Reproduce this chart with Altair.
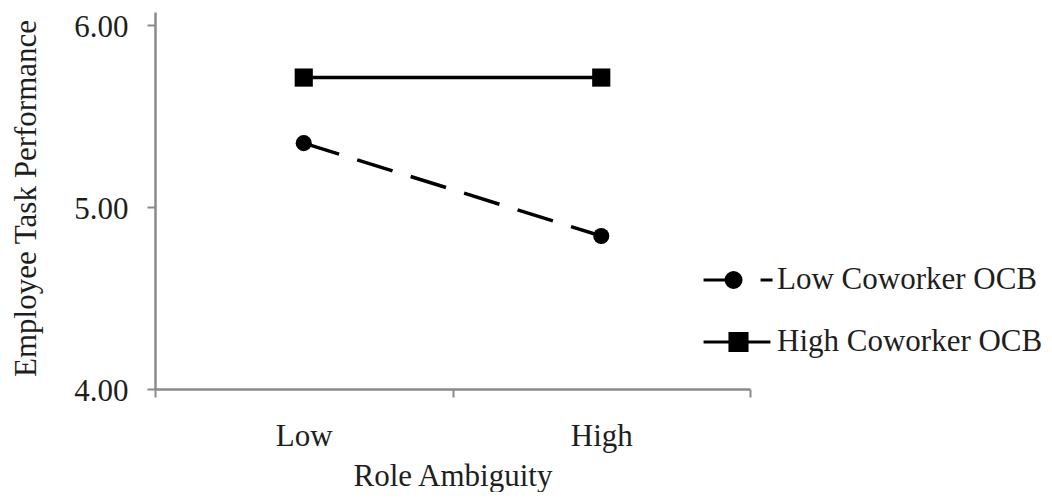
import altair as alt
import pandas as pd

ambiguity = ["Low", "High"]
series_names = ["Low Coworker OCB", "High Coworker OCB"]
low_ocb = [5.35, 4.84]
high_ocb = [5.71, 5.71]

rows = []
for a, v in zip(ambiguity, low_ocb):
    rows.append({"ambiguity": a, "series": series_names[0], "value": v})
for a, v in zip(ambiguity, high_ocb):
    rows.append({"ambiguity": a, "series": series_names[1], "value": v})
df = pd.DataFrame(rows)

FONT = "Liberation Serif"
TXT = "#1e1e1e"
AX = "#8a8a8a"

x_enc = alt.X(
    "ambiguity:N",
    sort=ambiguity,
    scale=alt.Scale(paddingInner=0, paddingOuter=0),
    axis=alt.Axis(
        title="Role Ambiguity",
        labelAngle=0,
        tickBand="extent",
        tickSize=8,
        labelPadding=24,
        titleX=297.5,
        titleY=96,
        titleBaseline="alphabetic",
        titleAlign="center",
    ),
)
y_enc = alt.Y(
    "value:Q",
    scale=alt.Scale(domain=[4, 6.07], nice=False, zero=False),
    axis=alt.Axis(
        title="Employee Task Performance",
        values=[4, 5, 6],
        format=".2f",
        tickSize=8,
        labelPadding=19,
        labelOffset=2.5,
        titleAngle=270,
        titleX=-129,
        titleY=186,
        titleAlign="center",
        titleBaseline="middle",
    ),
)

lines = alt.Chart(df).mark_line(color="black", strokeWidth=3.5).encode(
    x=x_enc,
    y=y_enc,
    strokeDash=alt.StrokeDash(
        "series:N",
        scale=alt.Scale(domain=series_names, range=[[37, 19], [1, 0]]),
        legend=None,
    ),
)

points = alt.Chart(df).mark_point(filled=True, color="black", opacity=1).encode(
    x=x_enc,
    y=y_enc,
    shape=alt.Shape(
        "series:N",
        scale=alt.Scale(domain=series_names, range=["circle", "square"]),
        legend=None,
    ),
    size=alt.Size(
        "series:N",
        scale=alt.Scale(domain=series_names, range=[260, 330]),
        legend=None,
    ),
)

low_sym = ("M-2.33,0L-0.33,0M-0.83,0A0.5,0.5 0 1,1 0.17,0A0.5,0.5 0 1,1 -0.83,0Z"
           "M1.47,0L2.27,0")
high_sym = "M-2.33,0L2.13,0M-0.57,-0.57L0.57,-0.57L0.57,0.57L-0.57,0.57Z"


def make_legend():
    return alt.Legend(
        title=None,
        orient="none",
        legendX=567,
        legendY=251.5,
        padding=0,
        symbolSize=900,
        symbolOpacity=1,
        symbolStrokeWidth=3,
        labelOffset=22,
        rowPadding=30,
        labelFont=FONT,
        labelFontSize=31,
        labelColor=TXT,
        labelLimit=400,
    )


legend_layer = alt.Chart(df).transform_filter("datum.value < 0").mark_point(
    filled=True, strokeWidth=3, opacity=1
).encode(
    x=x_enc,
    y=y_enc,
    shape=alt.Shape(
        "series:N",
        scale=alt.Scale(domain=series_names, range=[low_sym, high_sym]),
        legend=make_legend(),
    ),
    stroke=alt.Stroke(
        "series:N",
        scale=alt.Scale(domain=series_names, range=["black", "black"]),
        legend=make_legend(),
    ),
    fill=alt.Fill(
        "series:N",
        scale=alt.Scale(domain=series_names, range=["black", "black"]),
        legend=make_legend(),
    ),
)

chart = (
    alt.layer(lines, points, legend_layer)
    .resolve_scale(shape="independent", stroke="independent", fill="independent")
    .properties(
        width=595,
        height=377,
        autosize=alt.AutoSizeParams(type="none"),
        padding={"left": 147, "top": 4, "right": 294, "bottom": 103},
    )
    .configure_view(stroke=None)
    .configure_legend(symbolStrokeWidth=3)
    .configure_axis(
        grid=False,
        domainColor=AX,
        domainWidth=2.5,
        tickColor=AX,
        tickWidth=2,
        labelFont=FONT,
        labelFontSize=31,
        labelColor=TXT,
        titleFont=FONT,
        titleFontSize=31,
        titleFontWeight="normal",
        titleColor=TXT,
    )
)

chart.save("out.html", embed_options={"renderer": "svg", "actions": False})
